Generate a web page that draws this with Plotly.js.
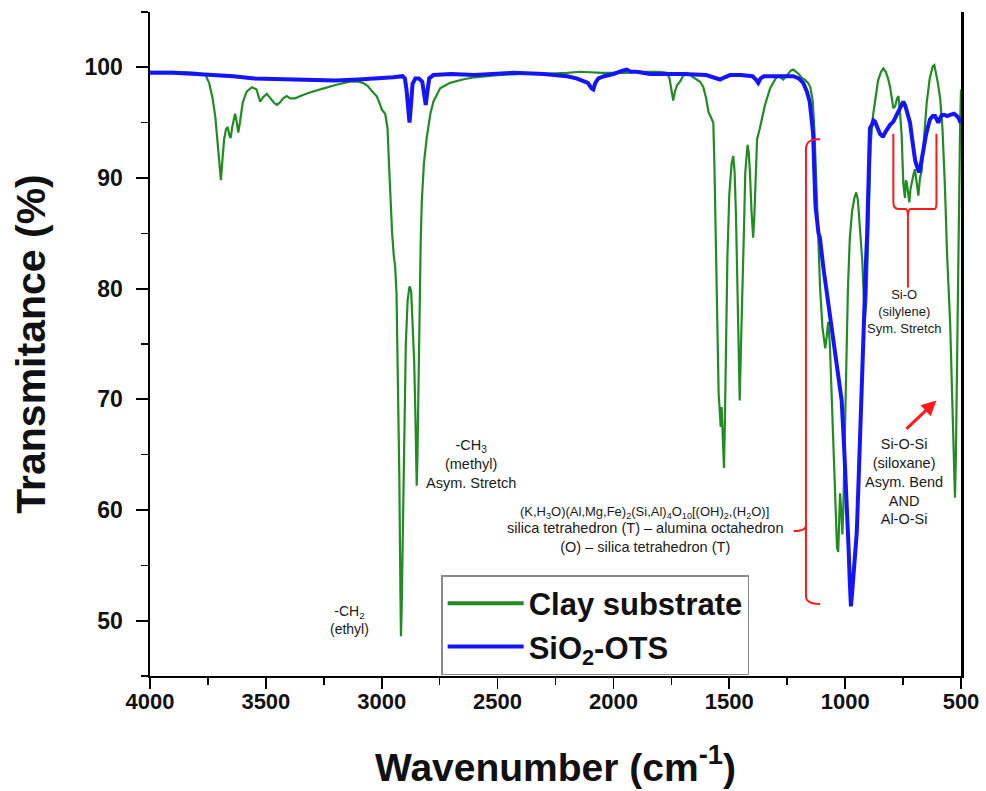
<!DOCTYPE html>
<html>
<head>
<meta charset="utf-8">
<script src="https://cdn.plot.ly/plotly-3.0.1.min.js"></script>
<style>html,body{margin:0;padding:0;background:#fff;}#chart{width:986px;height:791px;}</style>
</head>
<body>
<div id="chart"></div>
<script>
// Clay substrate (green) — wavenumber (cm^-1) and transmittance (%)
var clayWn = [4000,3900,3800,3760,3745,3730,3718,3708,3700,3694,3688,3680,3672,3665,3658,3652,3645,3638,3633,3627,3619,3612,3600,3583,3560,3540,3530,3525,3512,3496,3480,3465,3453,3440,3425,3410,3395,3374,3340,3300,3250,3200,3137,3100,3081,3060,3040,3022,3010,3000,2985,2975,2968,2962,2955,2948,2942,2936,2930,2924,2919,2917,2914,2909,2903,2896,2888,2880,2873,2866,2860,2855,2851,2849,2846,2842,2837,2832,2827,2818,2806,2790,2777,2760,2748,2705,2650,2600,2500,2400,2300,2200,2144,2050,1943,1900,1842,1800,1770,1758,1750,1742,1735,1725,1713,1700,1684,1669,1650,1626,1612,1600,1590,1576,1569,1564,1560,1556,1551,1546,1543,1539,1537,1533,1528,1523,1519,1514,1508,1500,1490,1483,1477,1471,1465,1460,1455,1450,1443,1437,1431,1425,1421,1416,1411,1404,1397,1392,1386,1380,1368,1346,1324,1300,1288,1267,1250,1235,1224,1212,1200,1185,1175,1160,1150,1140,1133,1126,1118,1108,1098,1090,1086,1080,1073,1066,1058,1050,1042,1035,1030,1026,1022,1017,1012,1008,1002,995,988,980,970,960,952,945,938,932,926,920,914,908,902,896,890,880,870,858,845,835,825,815,806,796,792,784,776,770,764,756,749,742,738,734,729,723,718,713,706,699,692,684,677,670,660,648,635,622,615,608,600,590,580,569,560,547,540,533,529,526,522,518,513,508,504,500];
var clayT = [99.6,99.6,99.5,99.3,98.6,97.2,95.5,93.0,91.0,89.8,91.5,93.5,94.4,94.6,93.9,93.6,94.6,95.5,95.8,95.2,94.1,95.0,96.8,97.8,98.2,98.0,97.3,96.9,97.3,97.6,97.2,96.8,96.6,96.8,97.2,97.4,97.2,97.2,97.5,97.8,98.1,98.4,98.7,98.7,98.6,98.3,97.8,97.4,96.8,96.2,95.8,94.5,91.0,87.5,85.0,83.0,82.0,79.5,73.0,63.0,52.0,48.6,51.0,59.0,68.0,75.0,79.0,80.2,79.8,77.0,73.5,69.0,64.0,62.2,64.5,71.0,78.0,84.0,87.9,91.3,93.6,95.8,96.9,97.7,98.1,98.6,98.9,99.1,99.3,99.4,99.4,99.5,99.6,99.5,99.5,99.6,99.6,99.6,99.5,99.0,98.0,97.0,97.8,98.4,98.7,99.2,99.5,99.3,99.0,98.7,98.2,97.2,96.0,95.4,95.0,91.0,86.0,80.0,74.0,70.5,69.6,68.0,67.5,69.3,66.0,63.8,68.0,76.5,83.0,88.5,91.3,92.0,90.5,86.5,81.0,76.0,69.9,74.5,79.5,85.0,90.5,92.6,93.0,92.3,90.6,87.0,84.6,86.5,90.5,93.5,94.5,96.6,98.1,99.0,99.2,98.9,99.3,99.7,99.8,99.6,99.4,99.0,98.9,98.6,98.2,97.0,94.5,90.5,85.5,80.0,76.5,74.8,74.6,75.6,77.0,75.0,70.0,65.0,60.0,56.6,56.2,59.0,61.5,60.0,57.8,60.0,67.0,74.0,80.0,84.5,87.0,88.2,88.7,88.0,86.0,83.5,82.5,79.5,77.4,79.0,83.0,89.0,93.0,95.6,97.3,98.8,99.6,99.9,99.6,99.0,98.2,96.8,96.3,96.5,97.2,97.4,96.2,93.8,89.5,88.2,89.8,89.6,88.5,87.8,89.0,89.6,90.2,90.8,89.5,88.4,90.0,90.6,93.5,96.8,99.0,100.1,100.2,99.5,98.6,97.2,94.5,89.0,83.0,77.0,71.0,65.0,62.0,61.1,65.0,73.0,82.0,89.0,94.5,98.0];

// SiO2-OTS (blue)
var otsWn = [4000,3900,3800,3712,3641,3550,3425,3300,3200,3100,3000,2950,2910,2900,2893,2887,2880,2874,2867,2855,2840,2825,2817,2810,2803,2795,2777,2700,2600,2500,2432,2300,2200,2160,2131,2110,2095,2087,2078,2065,2040,2000,1960,1943,1925,1900,1842,1800,1700,1600,1560,1540,1520,1497,1450,1400,1385,1375,1365,1350,1300,1224,1200,1181,1165,1153,1143,1138,1133,1128,1115,1109,1094,1075,1051,1032,1015,1004,993,985,980,975,970,962,950,943,936,929,922,916,911,905,900,897,893,885,878,871,860,850,840,835,825,815,806,792,775,760,749,740,730,720,712,705,698,691,685,680,672,663,650,634,622,612,605,598,590,583,570,560,547,530,518,510,504,500];
var otsT = [99.5,99.5,99.4,99.3,99.2,99.0,98.9,98.8,98.8,98.9,99.0,99.1,99.2,99.0,98.0,96.5,95.0,96.5,98.5,99.0,99.0,98.7,97.6,96.6,97.8,99.0,99.3,99.4,99.3,99.4,99.5,99.4,99.2,99.0,98.8,98.6,98.1,98.0,98.6,99.0,99.2,99.4,99.7,99.8,99.6,99.6,99.4,99.4,99.4,99.3,99.0,98.9,99.1,99.3,99.3,99.2,98.9,98.6,99.0,99.2,99.2,99.2,99.0,98.6,97.8,96.9,95.0,93.9,90.5,87.5,85.0,84.6,81.9,79.0,75.9,73.0,69.9,65.5,60.9,56.5,53.5,51.3,52.5,54.5,57.9,62.0,66.9,71.5,75.9,79.0,81.9,85.0,88.0,92.0,94.5,94.8,95.2,95.1,94.5,94.0,93.8,93.8,94.2,94.6,94.8,95.1,95.8,96.6,96.9,96.5,95.8,95.0,93.7,92.5,91.6,91.1,90.7,90.5,91.4,92.6,94.0,95.3,95.6,95.6,95.2,95.0,95.4,95.7,95.7,95.6,95.7,95.8,95.6,95.4,95.1,95.0];

var seriesNames = ['Clay substrate', 'SiO<sub>2</sub>-OTS'];
var seriesColors = ['#238b23', '#1414ff'];
var xTicks = [4000,3500,3000,2500,2000,1500,1000,500];
var yTicks = [50,60,70,80,90,100];

var FONT = 'Liberation Sans, Arial, Helvetica, sans-serif';
var RED = '#ff1a1a';

var traces = [
  {x: clayWn, y: clayT, name: seriesNames[0], type: 'scatter', mode: 'lines',
   line: {color: seriesColors[0], width: 2.2}, showlegend: false},
  {x: otsWn, y: otsT, name: seriesNames[1], type: 'scatter', mode: 'lines',
   line: {color: seriesColors[1], width: 4}, showlegend: false},
  // legend entries (thicker sample lines, no data)
  {x: [null], y: [null], name: seriesNames[0], type: 'scatter', mode: 'lines',
   line: {color: seriesColors[0], width: 4}, showlegend: true},
  {x: [null], y: [null], name: seriesNames[1], type: 'scatter', mode: 'lines',
   line: {color: seriesColors[1], width: 4}, showlegend: true}
];

var annFont = function(s){ return {family: FONT, size: s, color: '#1a1a1a'}; };

var layout = {
  width: 986, height: 791,
  margin: {l: 150, r: 25, t: 12, b: 115},
  paper_bgcolor: '#fff', plot_bgcolor: '#fff',
  showlegend: true,
  legend: {
    x: 0.359, y: 0.152, xanchor: 'left', yanchor: 'top',
    bgcolor: '#fff', bordercolor: '#8a8a8a', borderwidth: 1.5,
    font: {family: FONT, size: 31, color: '#111', weight: 'bold'},
    itemwidth: 76, tracegroupgap: 0
  },
  xaxis: {
    range: [4000, 500], autorange: false,
    tickmode: 'array', tickvals: xTicks, ticktext: xTicks.map(String),
    ticks: 'outside', ticklen: 11, tickwidth: 1.8, tickcolor: '#000',
    ticklabelstandoff: -6,
    minor: {dtick: 250, ticks: 'outside', ticklen: 7, tickwidth: 1.5, tickcolor: '#000', showgrid: false},
    showline: true, linecolor: '#000', linewidth: 2, mirror: false,
    showgrid: false, zeroline: false,
    tickfont: {family: FONT, size: 22, color: '#111', weight: 'bold'},
    title: {text: 'Wavenumber (cm<sup>-1</sup>)', standoff: 40,
            font: {family: FONT, size: 39, color: '#111', weight: 'bold'}}
  },
  yaxis: {
    range: [45, 105], autorange: false,
    tickmode: 'array', tickvals: yTicks, ticktext: yTicks.map(String),
    ticks: 'outside', ticklen: 12, tickwidth: 1.8, tickcolor: '#000',
    ticklabelstandoff: 8,
    minor: {dtick: 5, tick0: 45, ticks: 'outside', ticklen: 7, tickwidth: 1.5, tickcolor: '#000', showgrid: false},
    showline: true, linecolor: '#000', linewidth: 2.5, mirror: true,
    showgrid: false, zeroline: false,
    tickfont: {family: FONT, size: 23, color: '#111', weight: 'bold'},
    title: {text: 'Transmitance (%)', standoff: 26,
            font: {family: FONT, size: 41, color: '#111', weight: 'bold'}}
  },
  shapes: [
    // large bracket (clay T-O-T band)
    {type: 'path', xref: 'x', yref: 'y', line: {color: RED, width: 2},
     path: 'M 1108,93.5 Q 1169,93.6 1169,92.6 L 1169,58.6 Q 1169,58.1 1222,58.1 M 1169,58.6 Q 1169,58.1 1169,57.6 L 1169,52.2 Q 1169,51.5 1108,51.5'},
    // Si-O bracket
    {type: 'path', xref: 'x', yref: 'y', line: {color: RED, width: 2},
     path: 'M 792,94 L 792,87.8 Q 792,87.2 770,87.2 L 740,87.2 Q 729,87.2 729,86.4 Q 729,87.2 718,87.2 L 614,87.2 Q 606,87.2 606,87.8 L 606,94'},
    {type: 'line', xref: 'x', yref: 'y', x0: 729, x1: 729, y0: 86.4, y1: 80.1, line: {color: RED, width: 2}}
  ],
  annotations: [
    {x: 3137, y: 50.1, xref: 'x', yref: 'y', showarrow: false, text: '-CH<sub>2</sub><br>(ethyl)', font: annFont(14), align: 'center'},
    {x: 2615, y: 64.2, xref: 'x', yref: 'y', showarrow: false, text: '-CH<sub>3</sub><br>(methyl)<br>Asym. Stretch', font: annFont(14.5), align: 'center'},
    {x: 1864, y: 59.8, xref: 'x', yref: 'y', showarrow: false,
     text: '(K,H<sub>3</sub>O)(Al,Mg,Fe)<sub>2</sub>(Si,Al)<sub>4</sub>O<sub>10</sub>[(OH)<sub>2</sub>,(H<sub>2</sub>O)]',
     font: annFont(13), align: 'center'},
    {x: 1864, y: 57.5, xref: 'x', yref: 'y', showarrow: false,
     text: 'silica tetrahedron (T) – alumina octahedron<br>(O) – silica tetrahedron (T)',
     font: annFont(14.5), align: 'center'},
    {x: 748, y: 77.9, xref: 'x', yref: 'y', showarrow: false, text: 'Si-O<br>(silylene)<br>Sym. Stretch', font: annFont(13), align: 'center'},
    {x: 748, y: 62.6, xref: 'x', yref: 'y', showarrow: false, text: 'Si-O-Si<br>(siloxane)<br>Asym. Bend<br>AND<br>Al-O-Si', font: annFont(14.5), align: 'center'},
    {x: 606, y: 69.9, xref: 'x', yref: 'y', ax: 742, ay: 67.2, axref: 'x', ayref: 'y',
     showarrow: true, text: '', arrowcolor: RED, arrowwidth: 3, arrowhead: 2, arrowsize: 1}
  ]
};

Plotly.newPlot('chart', traces, layout, {displayModeBar: false, staticPlot: true});
</script>
</body>
</html>
